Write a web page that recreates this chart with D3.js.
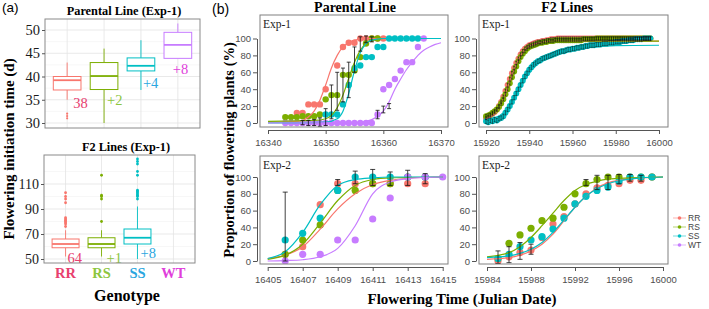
<!DOCTYPE html>
<html>
<head>
<meta charset="utf-8">
<script src="https://cdn.jsdelivr.net/npm/d3@7"></script>
<style>
  body { margin: 0; background: #fff; }
</style>
</head>
<body>
<svg id="fig" width="709" height="309"></svg>
<script>
// ---------------- data ----------------
const genotypes = ["RR", "RS", "SS", "WT"];
const colors = ["#F8766D", "#7CAE00", "#00BFC4", "#C77CFF"];
const textColors = ["#E8406E", "#8DC63F", "#2AA6E0", "#E03FDB"];

// (a) boxplots: [low whisker, Q1, median, Q3, high whisker]
const parentBox = [[35, 37.1, 39.2, 40, 43], [30, 37.2, 40.1, 43, 46], [37.1, 41.2, 42.3, 44, 47.8], [43.9, 43.9, 46.8, 49.5, 51.4]];
const parentOut = [[31, 31.5, 32], [], [], []];
const parentNotes = ["38", "+2", "+4", "+8"];
const parentTicks = [30, 35, 40, 45, 50];

const f2Box = [[52, 59, 62, 66, 73], [52, 59, 62, 67, 73], [50, 62, 67, 74, 92], null];
const f2Out = [[76, 78, 79, 80, 81, 82, 83, 95, 98, 100, 103], [80, 98, 100, 101, 117],
               [98, 100, 101, 102, 103, 104, 105, 117, 120, 126, 128, 130], []];
const f2Notes = ["64", "+1", "+8", ""];
const f2Ticks = [50, 70, 90, 110];

// (b) Parental line, Exp-1  [day, % flowering]
const pe1RR = [[16345,12],[16346,12],[16347,22],[16348,22],[16349,22],[16350,40],[16352,68],[16353,90],[16354,95],[16355,95],[16356,100],[16357,100],[16358,100],[16359,100],[16360,100]];
const pe1RS = [[16343,7],[16344,7],[16345,7],[16346,8],[16347,8],[16348,8],[16349,10],[16350,28],[16351,33],[16352,33],[16353,57],[16354,57],[16355,62],[16356,78],[16357,94],[16358,100],[16359,100]];
const pe1SS = [[16350,10],[16351,10],[16352,10],[16353,22],[16354,45],[16355,65],[16356,68],[16357,78],[16358,78],[16359,90],[16360,90],[16361,100],[16362,100],[16363,100],[16364,100],[16365,100],[16366,100]];
const pe1WT = [[16343,0],[16344,0],[16345,0],[16346,0],[16347,0],[16348,0],[16349,0],[16350,0],[16351,0],[16352,0],[16353,0],[16354,0],[16355,0],[16356,0],[16357,0],[16358,0],[16359,10],[16360,40],[16361,45],[16362,52],[16363,62],[16364,72],[16365,72],[16366,90],[16367,100]];
const pe1FitRR = [[16340,1],[16344,1.5],[16346,3],[16347,7],[16348,14],[16349,27],[16350,45],[16351,65],[16352,80],[16353,90],[16354,95],[16355,98],[16357,100],[16370,100]];
const pe1FitRS = [[16340,2],[16348,3],[16350,5],[16351,9],[16352,18],[16353,33],[16354,53],[16355,72],[16356,86],[16357,94],[16358,98],[16360,100],[16370,100]];
const pe1FitSS = [[16340,0],[16350,1],[16352,5],[16353,14],[16354,35],[16355,62],[16356,83],[16357,94],[16358,98],[16360,100],[16370,100]];
const pe1FitWT = [[16340,0],[16355,0.5],[16357,2],[16358,4],[16359,8],[16360,14],[16361,25],[16362,40],[16363,52],[16364,63],[16365,72],[16366,80],[16367,86],[16368,90],[16369,93],[16370,95]];
const pe1ErrDay = [16346,16347,16348,16349,16350,16351,16352,16353,16354,16355,16356,16357,16358,16359,16360,16361];
const pe1ErrLo  = [-2,-3,-3,-4,-3,5,15,25,30,60,85,95,96,5,12,17];
const pe1ErrHi  = [3,3,4,6,17,45,60,65,72,90,102,103,102,15,20,23];

// (b) F2 lines, Exp-1: one value per day from f2e1Start
const f2e1Start = 15920;
const f2e1RR = [6,7,9,11,13,16,20,25,31,38, 45,52,59,65,71,76,81,85,88,90, 92,93,94,95,96,96,97,97,98,98,
  99,99,99,100,100,100,100,100,100,100, 100,100,100,100,100,100,100,100,100,100, 100,100,100,100,100,100,100,100,100,100,
  100,100,100,100,100,100,100,100,100,100, 100,100,100,100,100,100,100];
const f2e1RS = [8,9,10,12,14,16,19,23,28,34, 40,47,54,61,67,73,78,82,85,88, 90,91,92,93,94,95,95,96,96,97,
  97,97,98,98,98,98,98,98,98,98, 98,98,98,98,98,99,99,99,99,99, 99,100,100,100,100,100,100,100,100,100,
  100,100,100,100,100,100,100,100,100,100, 100,100,100,100,100,100,100];
const f2e1SS = [2,1,3,2,4,3,5,6,8,12, 16,20,25,30,35,40,45,50,55,59, 63,66,69,71,73,74,76,77,78,79,
  80,81,82,83,84,85,85,86,87,87, 88,88,89,89,90,90,91,91,92,92, 92,93,93,93,94,94,94,95,95,95,
  96,96,96,97,97,97,98,98,98,99, 99,99,99,100,100,100,100];
const f2e1ErrHalf = [2, 2, 2.5];
const f2e1FitRR = [[15920,5],[15925,14],[15928,28],[15930,42],[15932,57],[15934,70],[15936,80],[15938,87],[15940,91],[15945,95],[15950,96.5],[15960,97],[16000,97]];
const f2e1FitRS = [[15920,8],[15925,15],[15928,27],[15930,38],[15932,52],[15934,65],[15936,76],[15938,84],[15940,89],[15945,94],[15950,96],[15960,97],[16000,97]];
const f2e1FitSS = [[15920,3],[15925,7],[15928,12],[15930,17],[15932,24],[15934,33],[15936,42],[15938,51],[15940,59],[15945,72],[15950,80],[15955,84],[15960,87],[15970,90],[15980,91.5],[16000,92]];

// (b) Parental line, Exp-2
const pe2RR = [[16406,8],[16407,17],[16408,67],[16409,92],[16410,92],[16411,92],[16412,92],[16413,92],[16414,92]];
const pe2RS = [[16406,8],[16407,25],[16408,43],[16409,84],[16410,84],[16411,92],[16412,92],[16413,100],[16414,100]];
const pe2SS = [[16406,25],[16407,33],[16408,51],[16409,84],[16410,100],[16411,100],[16412,100],[16413,100],[16414,100]];
const pe2WT = [[16406,0],[16407,8],[16408,8],[16409,25],[16410,25],[16411,50],[16412,75],[16413,100],[16414,100],[16415,100]];
const pe2FitRR = [[16405,3],[16406,7],[16407,17],[16408,38],[16409,62],[16410,80],[16411,91],[16412,96],[16413,98.5],[16415,100]];
const pe2FitRS = [[16405,2],[16406,7],[16407,20],[16408,45],[16409,72],[16410,90],[16411,97],[16412,99],[16415,100]];
const pe2FitSS = [[16405,3],[16406,11],[16407,34],[16408,67],[16409,90],[16410,97],[16411,99],[16412,100],[16415,100]];
const pe2FitWT = [[16405,0],[16406,0.5],[16407,1.5],[16408,5],[16409,15],[16410,42],[16411,80],[16412,94],[16413,98],[16414,99.5],[16415,100]];
const pe2ErrDay = [16406,16409,16410,16411,16412,16413,16414];
const pe2ErrLo  = [0,90,92,90,90,90,92];
const pe2ErrHi  = [82,97,107,109,106,108,104];

// (b) F2 lines, Exp-2
const f2e2Days = [15985,15986,15987,15988,15989,15990,15991,15992,15993,15994,15995,15996,15997,15998,15999];
const f2e2RR = [0,5,10,13,28,44,53,68,80,87,90,92,96,96,100];
const f2e2RS = [3,21,31,39,48,51,64,80,92,97,100,100,100,100,100];
const f2e2SS = [3,8,17,25,29,38,51,68,77,84,88,95,100,100,100];
const f2e2FitRR = [[15984,2],[15986,4],[15987,7],[15988,12],[15989,20],[15990,32],[15991,48],[15992,64],[15993,77],[15994,87],[15995,93],[15996,96],[15997,98],[15998,99],[16000,100]];
const f2e2FitRS = [[15984,5],[15986,10],[15987,17],[15988,28],[15989,42],[15990,57],[15991,72],[15992,84],[15993,91],[15994,95],[15995,97.5],[15997,99],[16000,100]];
const f2e2FitSS = [[15984,4],[15986,6],[15987,9],[15988,14],[15989,22],[15990,34],[15991,49],[15992,64],[15993,77],[15994,86],[15995,92],[15996,95.5],[15997,97.5],[15998,99],[16000,100]];
const f2e2ErrDay = [15985,15986,15987,15988,15993,15994,15995,15996,15997,15998];
const f2e2ErrLo  = [-3,-2,2,8,90,85,85,92,95,95];
const f2e2ErrHi  = [12,17,22,20,97,102,102,103,103,102];

// ---------------- drawing ----------------
const SERIF = '"Liberation Serif", "Times New Roman", serif';
const SANS = '"Liberation Sans", Arial, sans-serif';
const svg = d3.select("#fig");

function boxPanel(o) {
    const x = d3.scalePoint().domain(genotypes).range([o.left, o.right]).padding(0.6);
    const y = d3.scaleLinear().domain(o.yDomain).range(o.yRange);
    const g = svg.append("g");

    // grid
    g.selectAll(".minor").data(o.minor).join("line")
        .attr("x1", o.left).attr("x2", o.right)
        .attr("y1", d => y(d)).attr("y2", d => y(d))
        .attr("stroke", "#f2f2f2").attr("stroke-width", 0.6);
    g.selectAll(".major").data(o.ticks).join("line")
        .attr("x1", o.left).attr("x2", o.right)
        .attr("y1", d => y(d)).attr("y2", d => y(d))
        .attr("stroke", "#e3e3e3").attr("stroke-width", 0.8);
    g.selectAll(".vgrid").data(genotypes).join("line")
        .attr("x1", d => x(d)).attr("x2", d => x(d))
        .attr("y1", o.top).attr("y2", o.bottom)
        .attr("stroke", "#e3e3e3").attr("stroke-width", 0.8);

    const bw = x.step() * 0.75;
    genotypes.forEach((gt, i) => {
        const s = o.stats[i];
        if (!s) return;
        const cx = x(gt), c = colors[i];
        g.append("line").attr("x1", cx).attr("x2", cx).attr("y1", y(s[0])).attr("y2", y(s[1]))
            .attr("stroke", c).attr("stroke-width", 0.9);
        g.append("line").attr("x1", cx).attr("x2", cx).attr("y1", y(s[3])).attr("y2", y(s[4]))
            .attr("stroke", c).attr("stroke-width", 0.9);
        g.append("rect").attr("x", cx - bw / 2).attr("y", y(s[3]))
            .attr("width", bw).attr("height", y(s[1]) - y(s[3]))
            .attr("fill", "#fff").attr("stroke", c).attr("stroke-width", 1);
        g.append("line").attr("x1", cx - bw / 2).attr("x2", cx + bw / 2)
            .attr("y1", y(s[2])).attr("y2", y(s[2]))
            .attr("stroke", c).attr("stroke-width", 1.8);
        g.selectAll(null).data(o.outliers[i]).join("circle")
            .attr("cx", cx).attr("cy", d => y(d)).attr("r", o.outR)
            .attr("fill", c);
        if (o.notes[i]) {
            g.append("text").attr("x", cx + o.noteDx[i]).attr("y", y(s[1]) + o.noteDy[i])
                .attr("dy", "0.35em")
                .attr("font-family", SERIF).attr("font-size", 14.5)
                .attr("fill", textColors[i]).text(o.notes[i]);
        }
    });

    g.append("rect").attr("x", o.left).attr("y", o.top)
        .attr("width", o.right - o.left).attr("height", o.bottom - o.top)
        .attr("fill", "none").attr("stroke", "#8a8a8a").attr("stroke-width", 1);

    const ax = g.append("g").attr("transform", `translate(${o.left},0)`)
        .call(d3.axisLeft(y).tickValues(o.ticks).tickSize(3).tickPadding(2));
    ax.select(".domain").remove();
    ax.selectAll("line").attr("stroke", "#555");
    ax.selectAll("text").attr("font-family", SERIF).attr("font-size", o.tickFont).attr("fill", "#1a1a1a");

    g.append("text").attr("x", o.titleX).attr("y", o.top - 4)
        .attr("text-anchor", "middle").attr("font-family", SERIF)
        .attr("font-weight", "bold").attr("font-size", 12.3).text(o.title);
    return x;
}

boxPanel({
    left: 45, right: 200, top: 19, bottom: 128,
    yDomain: [30, 50], yRange: [123, 30],
    ticks: parentTicks, minor: [32.5, 37.5, 42.5, 47.5],
    stats: parentBox, outliers: parentOut, outR: 1.1,
    notes: parentNotes, noteDx: [6, 3, 2, -5], noteDy: [13, 10, 12, 11],
    tickFont: 14.5, title: "Parental Line (Exp-1)", titleX: 124
});

const xa = boxPanel({
    left: 44, right: 195, top: 155, bottom: 263,
    yDomain: [50, 110], yRange: [259, 184],
    ticks: f2Ticks, minor: [60, 80, 100, 120],
    stats: f2Box, outliers: f2Out, outR: 1.4,
    notes: f2Notes, noteDx: [2, 5, 3, 0], noteDy: [10, 10, 9, 0],
    tickFont: 14, title: "F2 Lines (Exp-1)", titleX: 126
});

svg.selectAll(".geno").data(genotypes).join("text")
    .attr("x", d => xa(d)).attr("y", 278)
    .attr("text-anchor", "middle").attr("font-family", SERIF)
    .attr("font-weight", "bold").attr("font-size", 14.5)
    .attr("fill", (d, i) => textColors[i]).text(d => d);

svg.append("text").attr("x", 127).attr("y", 301).attr("text-anchor", "middle")
    .attr("font-family", SERIF).attr("font-weight", "bold").attr("font-size", 16)
    .text("Genotype");

svg.append("text").attr("transform", "translate(14,149) rotate(-90)")
    .attr("text-anchor", "middle").attr("font-family", SERIF)
    .attr("font-weight", "bold").attr("font-size", 15)
    .text("Flowering initiation time (d)");

svg.append("text").attr("x", 2).attr("y", 12).attr("font-family", SANS)
    .attr("font-size", 13.5).text("(a)");

// (b) panels
function curvePanel(p) {
    const x = d3.scaleLinear().domain(p.xDomain).range(p.xRange);
    const y = d3.scaleLinear().domain([0, 100]).range(p.yRange);
    const [L, T, R, B] = p.frame;
    const g = svg.append("g");
    const clipId = "clip-" + p.id;
    g.append("clipPath").attr("id", clipId).append("rect")
        .attr("x", L).attr("y", T).attr("width", R - L).attr("height", B - T);
    const plot = g.append("g").attr("clip-path", `url(#${clipId})`);

    p.series.forEach(s => {
        plot.append("g").selectAll("circle").data(s.pts).join("circle")
            .attr("cx", d => x(d[0])).attr("cy", d => y(d[1]))
            .attr("r", p.r).attr("fill", s.color);
    });
    const line = d3.line().x(d => x(d[0])).y(d => y(d[1])).curve(d3.curveMonotoneX);
    p.series.forEach(s => {
        plot.append("path").attr("d", line(s.fit)).attr("fill", "none")
            .attr("stroke", s.color).attr("stroke-width", 1.2);
    });

    const eb = plot.append("g").attr("stroke", "#111").attr("stroke-width", p.errW);
    const cap = p.cap;
    p.err.forEach(e => {
        eb.append("line").attr("x1", x(e[0])).attr("x2", x(e[0])).attr("y1", y(e[1])).attr("y2", y(e[2]));
        eb.append("line").attr("x1", x(e[0]) - cap).attr("x2", x(e[0]) + cap).attr("y1", y(e[1])).attr("y2", y(e[1]));
        eb.append("line").attr("x1", x(e[0]) - cap).attr("x2", x(e[0]) + cap).attr("y1", y(e[2])).attr("y2", y(e[2]));
    });

    g.append("rect").attr("x", L).attr("y", T).attr("width", R - L).attr("height", B - T)
        .attr("fill", "none").attr("stroke", "#808080").attr("stroke-width", 1);

    const ya = g.append("g").attr("transform", `translate(${L - 3},0)`)
        .call(d3.axisLeft(y).tickValues([0, 20, 40, 60, 80, 100]).tickSize(4).tickSizeOuter(0).tickPadding(2));
    const xax = g.append("g").attr("transform", `translate(0,${B + 3})`)
        .call(d3.axisBottom(x).tickValues(p.xTicks).tickSize(4).tickSizeOuter(0)
            .tickFormat(d3.format("d")).tickPadding(5));
    [ya, xax].forEach(a => {
        a.selectAll("path, line").attr("stroke", "#555");
        a.selectAll("text").attr("font-family", SANS).attr("font-size", 9.5).attr("fill", "#4d4d4d");
    });

    g.append("text").attr("x", L + 3).attr("y", T + 13).attr("font-family", SERIF)
        .attr("font-size", 11.5).attr("fill", "#222").text(p.label);
}

const toPts = (days, vals) => days.map((d, i) => [d, vals[i]]);
const f2e1Days = f2e1RR.map((v, i) => f2e1Start + i);
const errRows = (days, lo, hi) => days.map((d, i) => [d, lo[i], hi[i]]);

curvePanel({
    id: "tl", frame: [260, 15, 448, 127],
    xDomain: [16340, 16370], xRange: [268, 441], yRange: [123, 38.5],
    xTicks: [16340, 16350, 16360, 16370], r: 3.2, cap: 2, errW: 0.8, label: "Exp-1",
    series: [
        { pts: pe1RR, fit: pe1FitRR, color: colors[0] },
        { pts: pe1RS, fit: pe1FitRS, color: colors[1] },
        { pts: pe1SS, fit: pe1FitSS, color: colors[2] },
        { pts: pe1WT, fit: pe1FitWT, color: colors[3] }
    ],
    err: errRows(pe1ErrDay, pe1ErrLo, pe1ErrHi)
});

const f2e1Series = [f2e1RR, f2e1RS, f2e1SS];
curvePanel({
    id: "tr", frame: [479, 15, 668, 127],
    xDomain: [15920, 16000], xRange: [486, 659], yRange: [123, 38.5],
    xTicks: [15920, 15940, 15960, 15980, 16000], r: 3, cap: 1, errW: 0.5, label: "Exp-1",
    series: [
        { pts: toPts(f2e1Days, f2e1RR), fit: f2e1FitRR, color: colors[0] },
        { pts: toPts(f2e1Days, f2e1RS), fit: f2e1FitRS, color: colors[1] },
        { pts: toPts(f2e1Days, f2e1SS), fit: f2e1FitSS, color: colors[2] }
    ],
    err: f2e1Series.flatMap((vals, k) => vals.map((v, i) => [f2e1Days[i], v - f2e1ErrHalf[k], v + f2e1ErrHalf[k]]))
});

curvePanel({
    id: "bl", frame: [260, 156, 448, 264],
    xDomain: [16405, 16415], xRange: [267.7, 442.7], yRange: [261, 177],
    xTicks: [16405, 16407, 16409, 16411, 16413, 16415], r: 3.6, cap: 2.5, errW: 0.8, label: "Exp-2",
    series: [
        { pts: pe2RR, fit: pe2FitRR, color: colors[0] },
        { pts: pe2RS, fit: pe2FitRS, color: colors[1] },
        { pts: pe2SS, fit: pe2FitSS, color: colors[2] },
        { pts: pe2WT, fit: pe2FitWT, color: colors[3] }
    ],
    err: errRows(pe2ErrDay, pe2ErrLo, pe2ErrHi)
});

curvePanel({
    id: "br", frame: [479, 156, 668, 264],
    xDomain: [15984, 16000], xRange: [487, 663], yRange: [261, 177],
    xTicks: [15984, 15988, 15992, 15996, 16000], r: 3.6, cap: 2.5, errW: 0.8, label: "Exp-2",
    series: [
        { pts: toPts(f2e2Days, f2e2RR), fit: f2e2FitRR, color: colors[0] },
        { pts: toPts(f2e2Days, f2e2RS), fit: f2e2FitRS, color: colors[1] },
        { pts: toPts(f2e2Days, f2e2SS), fit: f2e2FitSS, color: colors[2] }
    ],
    err: errRows(f2e2ErrDay, f2e2ErrLo, f2e2ErrHi)
});

// legend
const leg = svg.append("g").selectAll("g").data(genotypes).join("g")
    .attr("transform", (d, i) => `translate(673,${218 + i * 9})`);
leg.append("line").attr("x1", 0).attr("x2", 13).attr("stroke", (d, i) => colors[i])
    .attr("stroke-opacity", 0.55).attr("stroke-width", 1);
leg.append("circle").attr("cx", 6.5).attr("r", 1.8).attr("fill", (d, i) => colors[i]);
leg.append("text").attr("x", 15).attr("dy", "0.35em").attr("font-family", SANS)
    .attr("font-size", 8.5).attr("fill", "#444").text(d => d);

// (b) titles and labels
svg.append("text").attr("x", 212).attr("y", 14).attr("font-family", SANS)
    .attr("font-size", 14).text("(b)");
svg.append("text").attr("x", 355).attr("y", 12).attr("text-anchor", "middle")
    .attr("font-family", SERIF).attr("font-weight", "bold").attr("font-size", 14)
    .text("Parental Line");
svg.append("text").attr("x", 567).attr("y", 12).attr("text-anchor", "middle")
    .attr("font-family", SERIF).attr("font-weight", "bold").attr("font-size", 14)
    .text("F2 Lines");
svg.append("text").attr("transform", "translate(234,150) rotate(-90)")
    .attr("text-anchor", "middle").attr("font-family", SERIF)
    .attr("font-weight", "bold").attr("font-size", 14.5)
    .text("Proportion of flowering plants (%)");
svg.append("text").attr("x", 462).attr("y", 304).attr("text-anchor", "middle")
    .attr("font-family", SERIF).attr("font-weight", "bold").attr("font-size", 15)
    .text("Flowering Time (Julian Date)");
</script>
</body>
</html>
